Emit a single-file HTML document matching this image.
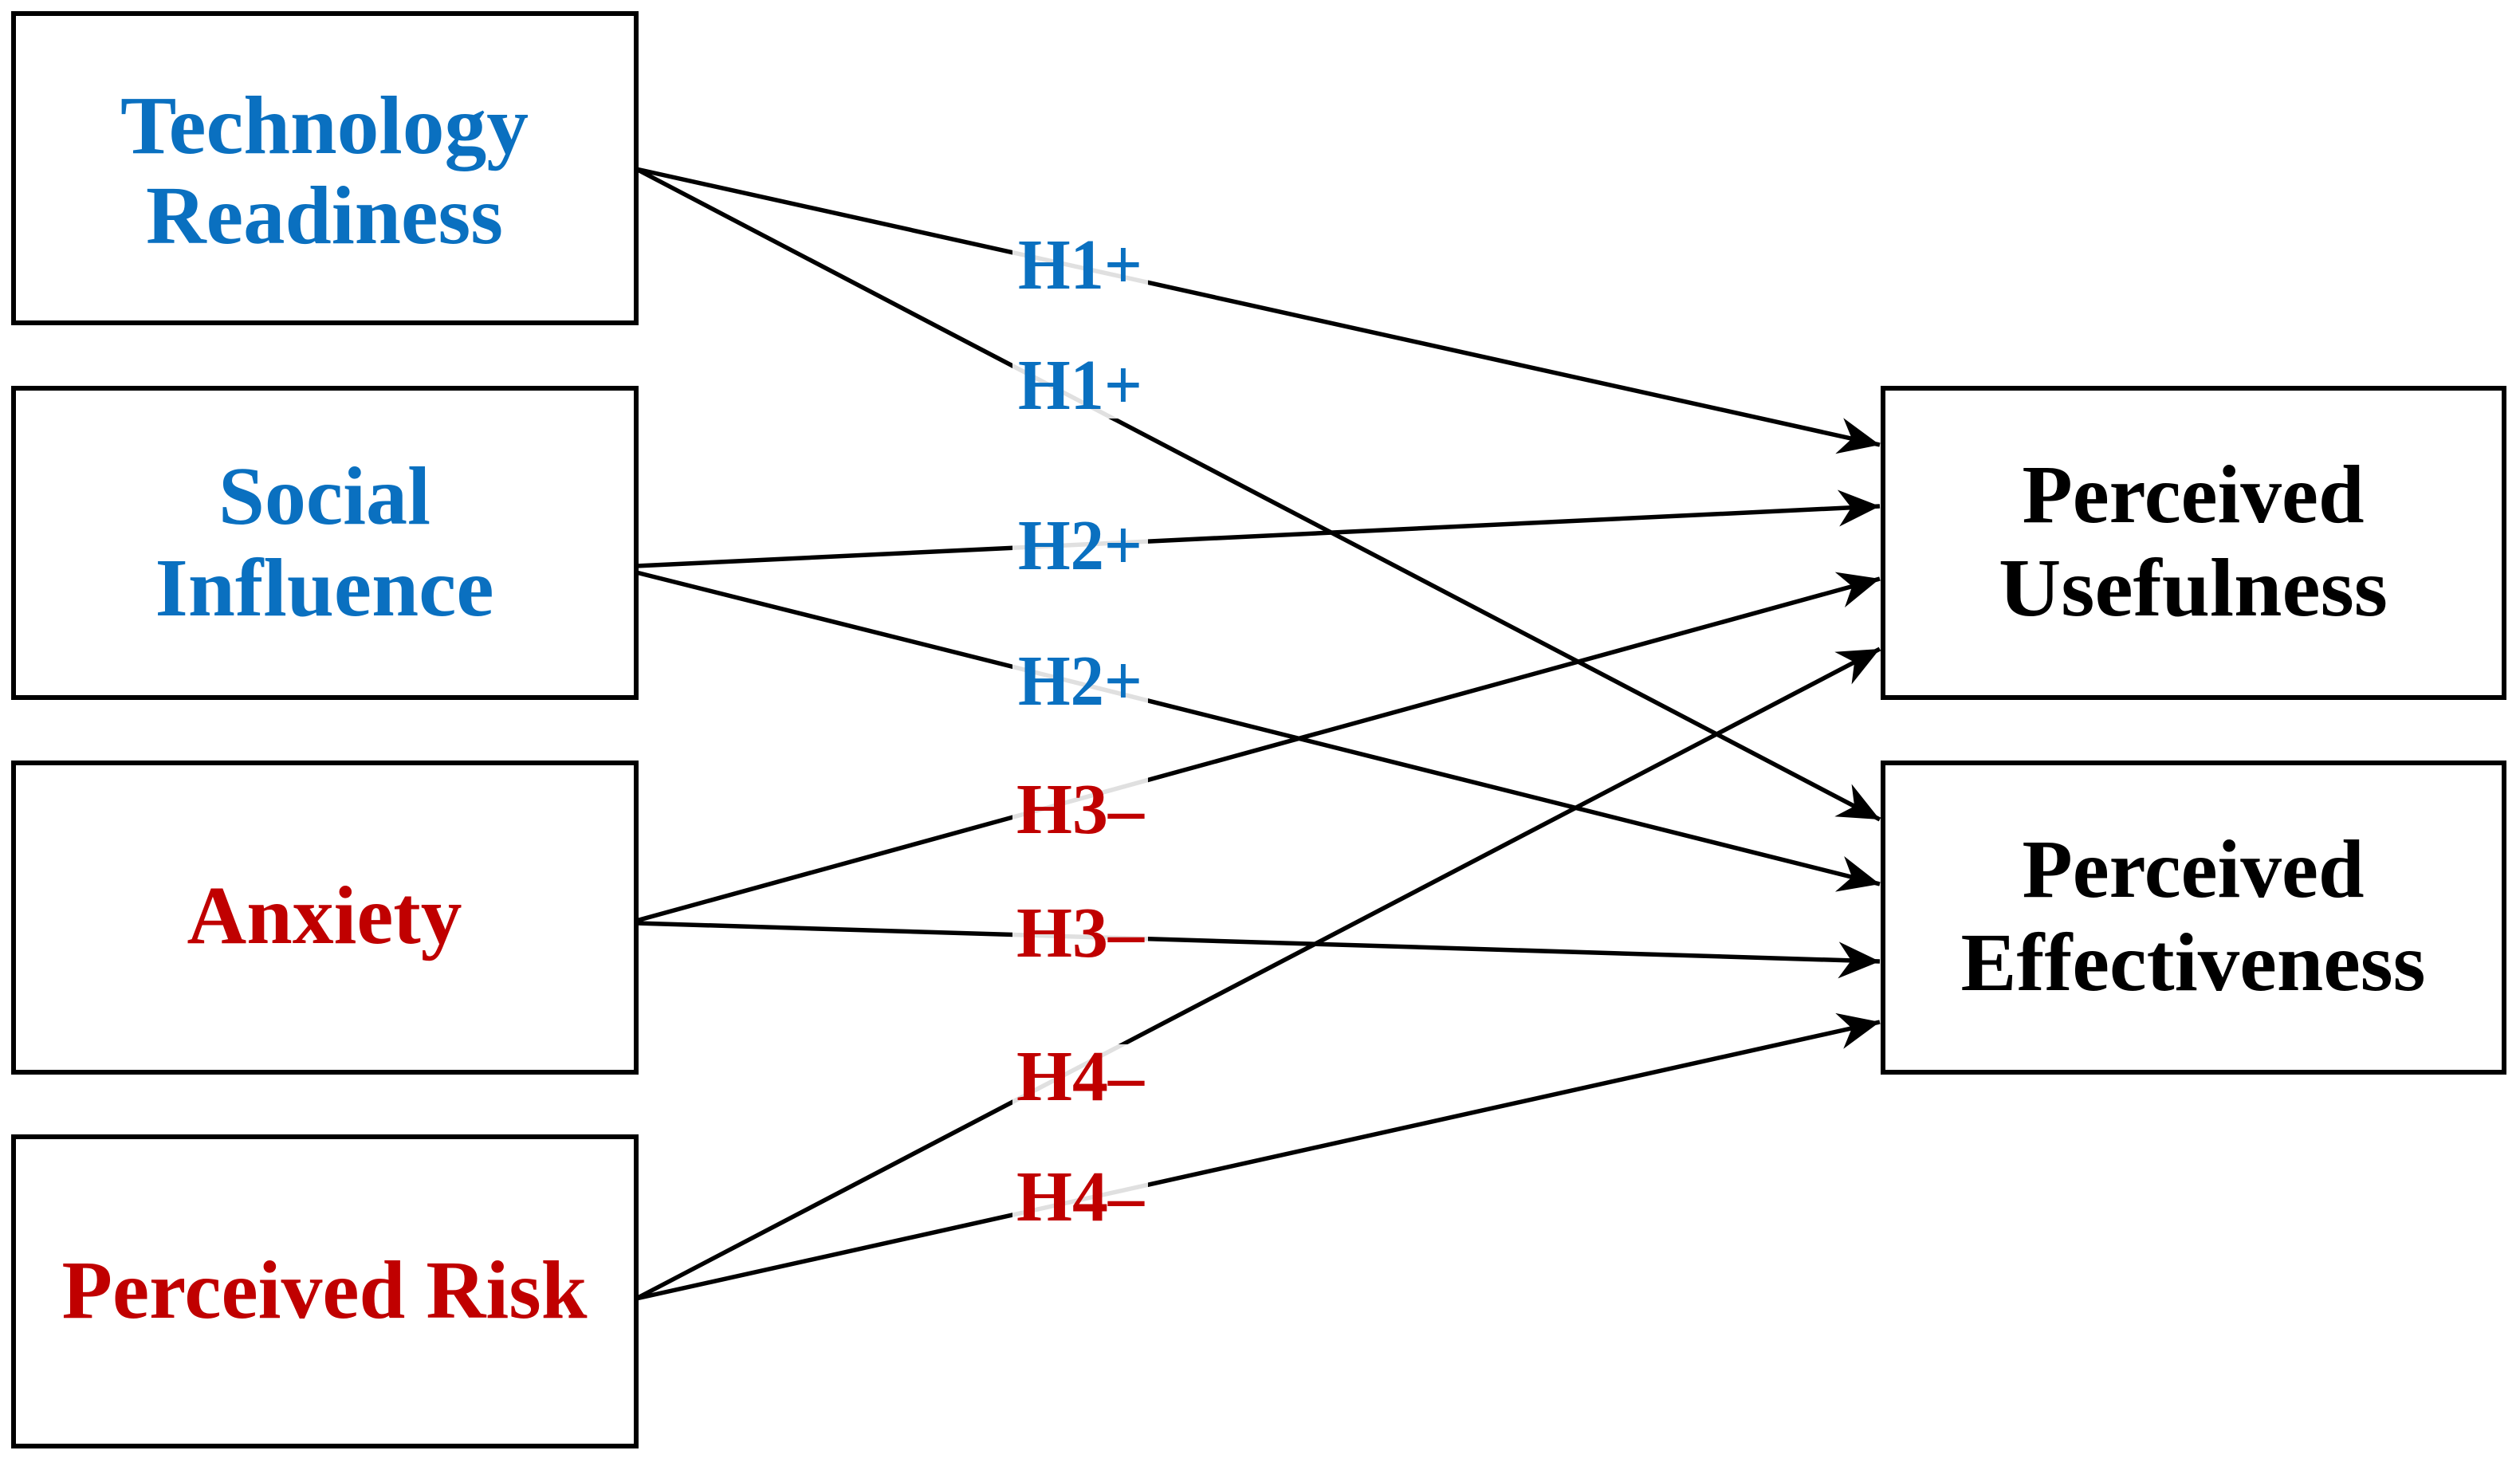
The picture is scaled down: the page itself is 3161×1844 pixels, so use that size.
<!DOCTYPE html>
<html><head><meta charset="utf-8"><style>
html,body{margin:0;padding:0;background:#fff;}
svg{display:block;}
</style></head><body>
<svg width="3161" height="1844" viewBox="0 0 3161 1844" xmlns="http://www.w3.org/2000/svg" font-family="'Liberation Serif', serif" font-weight="bold">
<defs>
<marker id="a" markerUnits="userSpaceOnUse" markerWidth="56" markerHeight="50" refX="52" refY="25" orient="auto">
<path d="M0,2 L52,25 L0,48 L16,25 Z" fill="#000"/>
</marker>
</defs>
<rect width="3161" height="1844" fill="#fff"/>
<g fill="none" stroke="#000" stroke-width="6">
<rect x="17" y="17" width="781" height="388"/>
<rect x="17" y="487" width="781" height="388"/>
<rect x="17" y="957" width="781" height="388"/>
<rect x="17" y="1426" width="781" height="388"/>
<rect x="2362" y="487" width="779" height="388"/>
<rect x="2362" y="957" width="779" height="388"/>
</g>
<g stroke="#000" stroke-width="5.5" marker-end="url(#a)">
<line x1="798" y1="212" x2="2358" y2="558"/>
<line x1="798" y1="212" x2="2358" y2="1028"/>
<line x1="798" y1="710" x2="2358" y2="635"/>
<line x1="798" y1="718" x2="2358" y2="1109"/>
<line x1="798" y1="1155" x2="2358" y2="726"/>
<line x1="798" y1="1158" x2="2358" y2="1206"/>
<line x1="798" y1="1629" x2="2358" y2="814"/>
<line x1="798" y1="1629" x2="2358" y2="1282"/>
</g>
<g fill="#fff" fill-opacity="0.88">
<rect x="1270" y="292" width="170" height="82"/>
<rect x="1270" y="443" width="170" height="82"/>
<rect x="1270" y="644" width="170" height="82"/>
<rect x="1270" y="814" width="170" height="82"/>
<rect x="1270" y="975" width="170" height="82"/>
<rect x="1270" y="1130" width="170" height="82"/>
<rect x="1270" y="1310" width="170" height="82"/>
<rect x="1270" y="1461" width="170" height="82"/>
</g>
<g font-size="90" text-anchor="middle">
<g fill="#0a70c0">
<text x="1355" y="362" textLength="156" lengthAdjust="spacingAndGlyphs">H1+</text>
<text x="1355" y="513" textLength="156" lengthAdjust="spacingAndGlyphs">H1+</text>
<text x="1355" y="714" textLength="156" lengthAdjust="spacingAndGlyphs">H2+</text>
<text x="1355" y="884" textLength="156" lengthAdjust="spacingAndGlyphs">H2+</text>
</g>
<g fill="#c00000">
<text x="1355" y="1045" textLength="160" lengthAdjust="spacingAndGlyphs">H3–</text>
<text x="1355" y="1200" textLength="160" lengthAdjust="spacingAndGlyphs">H3–</text>
<text x="1355" y="1380" textLength="160" lengthAdjust="spacingAndGlyphs">H4–</text>
<text x="1355" y="1531" textLength="160" lengthAdjust="spacingAndGlyphs">H4–</text>
</g>
</g>
<g font-size="104" text-anchor="middle">
<g fill="#0a70c0">
<text x="407" y="192" textLength="512" lengthAdjust="spacingAndGlyphs">Technology</text>
<text x="407" y="305" textLength="448" lengthAdjust="spacingAndGlyphs">Readiness</text>
<text x="407" y="657" textLength="266" lengthAdjust="spacingAndGlyphs">Social</text>
<text x="407" y="772" textLength="425" lengthAdjust="spacingAndGlyphs">Influence</text>
</g>
<g fill="#c00000">
<text x="407" y="1183" textLength="345" lengthAdjust="spacingAndGlyphs">Anxiety</text>
<text x="407" y="1653" textLength="659" lengthAdjust="spacingAndGlyphs">Perceived Risk</text>
</g>
<g fill="#000">
<text x="2751" y="655" textLength="429" lengthAdjust="spacingAndGlyphs">Perceived</text>
<text x="2751" y="772" textLength="488" lengthAdjust="spacingAndGlyphs">Usefulness</text>
<text x="2751" y="1125" textLength="429" lengthAdjust="spacingAndGlyphs">Perceived</text>
<text x="2751" y="1242" textLength="583" lengthAdjust="spacingAndGlyphs">Effectiveness</text>
</g>
</g>
</svg>
</body></html>
